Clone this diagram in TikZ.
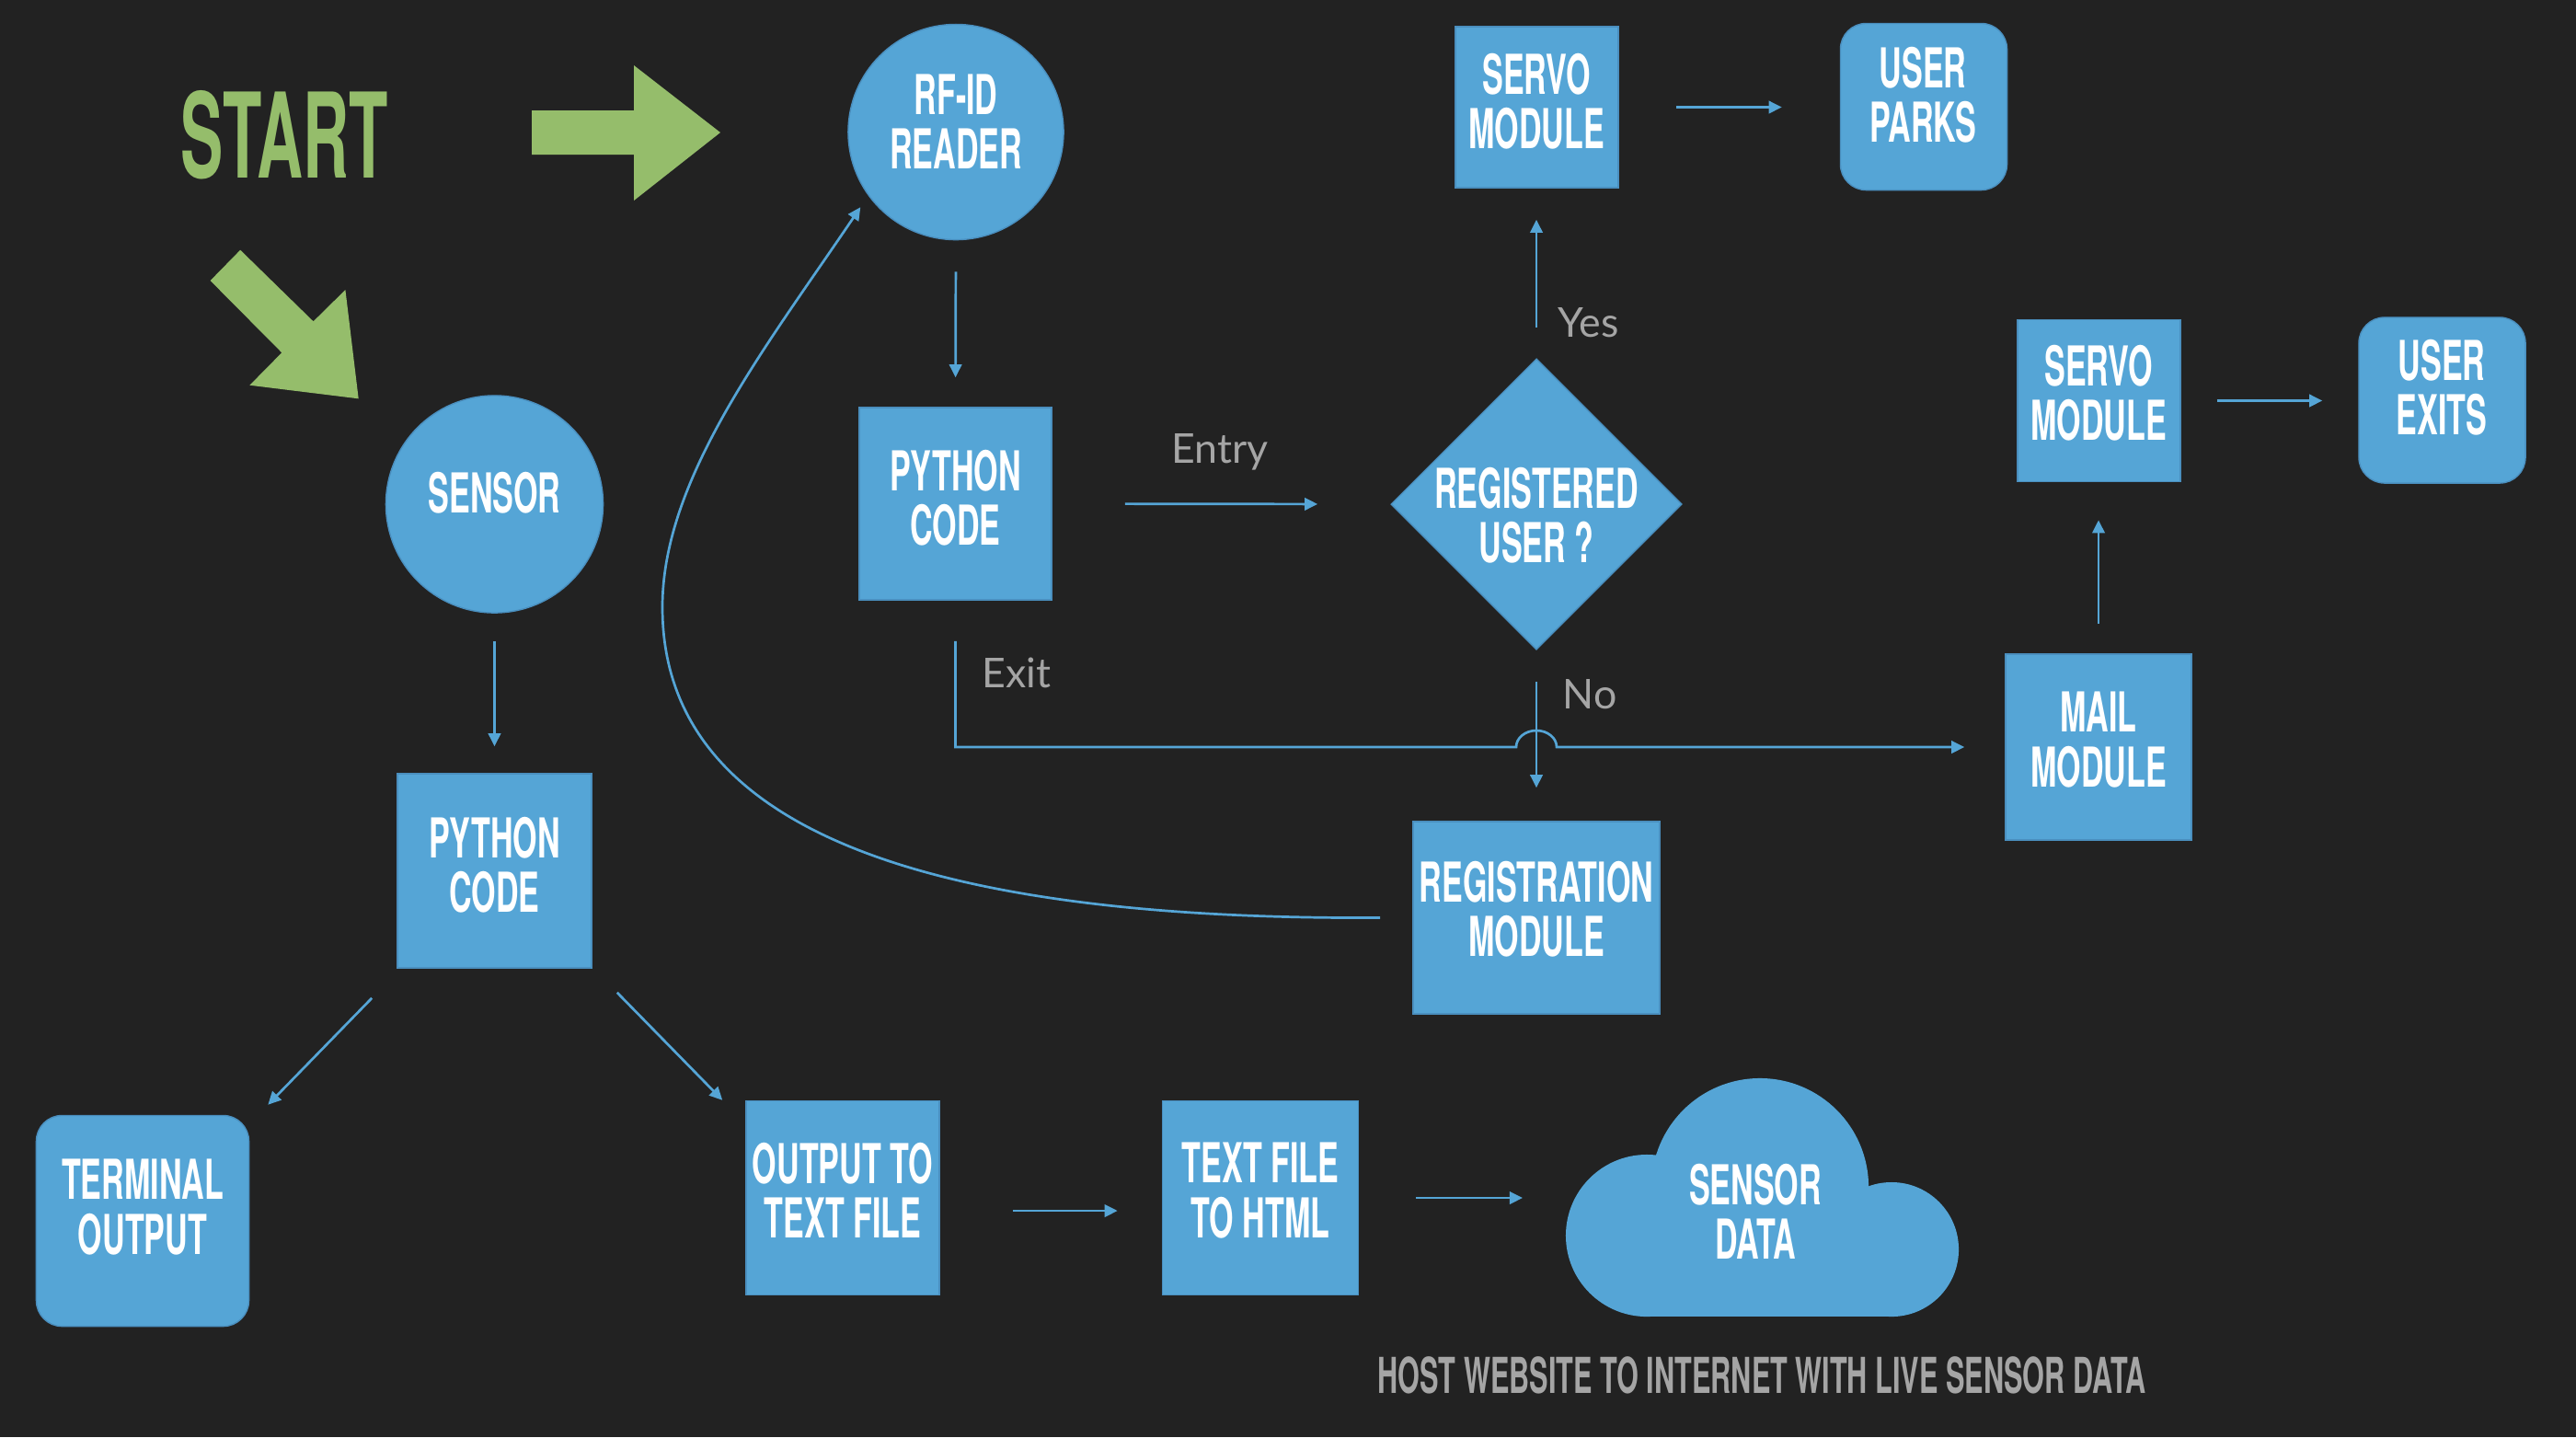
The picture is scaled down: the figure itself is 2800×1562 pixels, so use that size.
\documentclass[tikz,border=0pt]{standalone}
\usepackage{fontspec}
\setmainfont{Lato}
\newfontfamily\dinfont[FakeStretch=0.57]{TeX Gyre Heros}
\newfontfamily\startfont[FakeStretch=0.54]{TeX Gyre Heros}
\newfontfamily\lblfont{Lato}
\usetikzlibrary{shapes.geometric,arrows.meta}
\definecolor{bg}{HTML}{222222}
\definecolor{boxblue}{HTML}{55A5D6}
\definecolor{edgeblue}{HTML}{4A8FBF}
\definecolor{lineblue}{HTML}{55A5D6}
\definecolor{startgreen}{HTML}{95BD6B}
\definecolor{lblgray}{HTML}{A5A5A5}
\tikzset{
  box/.style={rectangle, fill=boxblue, draw=edgeblue, line width=0.4pt, inner sep=0pt},
  rbox/.style={box, rounded corners=0.28cm},
  circ/.style={circle, fill=boxblue, draw=edgeblue, line width=0.4pt, inner sep=0pt},
  dbox/.style={diamond, fill=boxblue, draw=edgeblue, line width=0.4pt, inner sep=0pt, minimum width=3.16cm, minimum height=3.16cm},
  txt/.style={text=white, font=\dinfont\bfseries\fontsize{17}{16.8}\selectfont, align=center, inner sep=0pt},
  captxt/.style={text=lblgray, font=\dinfont\bfseries\fontsize{15.3}{18}\selectfont, inner sep=0pt},
  lbl/.style={text=lblgray, font=\lblfont\fontsize{12.7}{15}\selectfont, inner sep=0pt, anchor=base west},
  arr/.style={draw=lineblue, line width=0.77pt, -{Triangle[length=4pt,width=3.8pt]}},
}
\begin{document}
\begin{tikzpicture}[x=0.01cm,y=0.01cm]
\fill[bg] (0,0) rectangle (2800,-1562);
\useasboundingbox (0,0) rectangle (2800,-1562);

% START and green arrows
\node[text=startgreen, font=\startfont\bfseries\fontsize{36.5}{40}\selectfont, inner sep=0pt] (start) at (309,-147) {START};
\fill[startgreen] (578,-120) -- (689,-120) -- (689,-71) -- (783,-144) -- (689,-218) -- (689,-168) -- (578,-168) -- cycle;
\fill[startgreen] (228.6,-305) -- (261.2,-271.7) -- (340.6,-349.3) -- (375.4,-315) -- (389.7,-433.3) -- (271.4,-418.7) -- (306.3,-383.3) -- cycle;

% shapes
\node[circ, minimum size=2.36cm] (sensor) at (537.5,-548) {};
\node[txt] (sensorT) at (537.5,-536) {SENSOR};
\node[box, minimum width=2.11cm, minimum height=2.11cm] (py1) at (537.5,-946.5) {};
\node[txt] (py1T) at (537.5,-940) {PYTHON\\CODE};
\node[rbox, minimum width=2.31cm, minimum height=2.29cm] (term) at (155,-1327) {};
\node[txt] (termT) at (155,-1312) {TERMINAL\\OUTPUT};
\node[box, minimum width=2.10cm, minimum height=2.11cm] (out) at (916,-1302) {};
\node[txt] (outT) at (916,-1294) {OUTPUT TO\\TEXT FILE};
\node[box, minimum width=2.13cm, minimum height=2.11cm] (html) at (1370,-1302) {};
\node[txt] (htmlT) at (1370,-1294) {TEXT FILE\\TO HTML};

\node[circ, minimum size=2.34cm] (rfid) at (1039,-143.5) {};
\node[txt] (rfidT) at (1039,-132) {RF-ID\\READER};
\node[box, minimum width=2.09cm, minimum height=2.09cm] (py2) at (1038.5,-547.5) {};
\node[txt] (py2T) at (1038.5,-541) {PYTHON\\CODE};
\node[box, minimum width=1.77cm, minimum height=1.75cm] (servo1) at (1670.5,-116.5) {};
\node[txt] (servo1T) at (1670,-110) {SERVO\\MODULE};
\node[rbox, minimum width=1.81cm, minimum height=1.81cm] (parks) at (2091,-116) {};
\node[txt] (parksT) at (2090,-103) {USER\\PARKS};
\node[dbox] (dia) at (1670,-548) {};
\node[txt] (diaT) at (1670,-560) {REGISTERED\\USER ?};
\node[box, minimum width=1.77cm, minimum height=1.76cm] (servo2) at (2281.5,-435.5) {};
\node[txt] (servo2T) at (2281,-427) {SERVO\\MODULE};
\node[rbox, minimum width=1.81cm, minimum height=1.80cm] (exits) at (2654.5,-435) {};
\node[txt] (exitsT) at (2654,-421) {USER\\EXITS};
\node[box, minimum width=2.02cm, minimum height=2.02cm] (mail) at (2281,-812) {};
\node[txt] (mailT) at (2281,-804) {MAIL\\MODULE};
\node[box, minimum width=2.68cm, minimum height=2.09cm] (regm) at (1670,-997.5) {};
\node[txt] (regmT) at (1670,-988) {REGISTRATION\\MODULE};

% cloud
\fill[boxblue] (1790,-1343) circle[radius=0.88cm];
\fill[boxblue] (1913,-1290) circle[radius=1.18cm];
\fill[boxblue] (2056,-1358) circle[radius=0.73cm];
\fill[boxblue] (1790,-1431) rectangle (2056,-1300);
\node[txt] (cloudT) at (1908,-1317) {SENSOR\\DATA};
\coordinate (cloudW) at (1700,-1302);
\node[captxt] (cap) at (1915,-1495) {HOST WEBSITE TO INTERNET WITH LIVE SENSOR DATA};

% labels
\node[lbl] (entry) at (1272.7,-503) {Entry};
\node[lbl] (exit) at (1066.7,-747.3) {Exit};
\node[lbl] (yes) at (1693,-366.7) {Yes};
\node[lbl] (no) at (1698,-770) {No};

% connectors
\draw[arr, shorten <=0.34cm, shorten >=0.32cm] (rfid.south) -- (py2.north);
\draw[arr, shorten <=0.30cm, shorten >=0.29cm] (sensor.south) -- (py1.north);
\draw[arr] ([xshift=-0.27cm,yshift=-0.32cm]py1.south west) -- ([xshift=0.20cm,yshift=0.11cm]term.north east);
\draw[arr] ([xshift=0.27cm,yshift=-0.26cm]py1.south east) -- ([xshift=-0.25cm]out.north west);
\draw[arr] ([xshift=0.79cm,yshift=-0.14cm]out.east) -- ([xshift=-0.48cm,yshift=-0.14cm]html.west);
\draw[arr, shorten >=0.45cm] ([xshift=0.62cm]html.east) -- (cloudW);
\draw[arr, shorten <=0.79cm, shorten >=0.79cm] (py2.east) -- (dia.west);
\draw[arr, shorten <=0.33cm, shorten >=0.34cm] (dia.north) -- (dia.north |- servo1.south);
\draw[arr, shorten <=0.62cm, shorten >=0.63cm] (servo1.east) -- (parks.west |- servo1.east);
\draw[arr, shorten <=0.39cm, shorten >=0.39cm] (servo2.east) -- (exits.west |- servo2.east);
\draw[arr, shorten <=0.32cm, shorten >=0.41cm] (mail.north) -- (mail.north |- servo2.south);
\draw[arr, shorten <=0.34cm, shorten >=0.36cm] (dia.south) -- (dia.south |- regm.north);
\coordinate (cross) at (dia.south |- mail.west);
\draw[arr] ([yshift=-0.44cm]py2.south) |- ([xshift=-0.22cm]cross) arc[start angle=180, end angle=0, x radius=0.22cm, y radius=0.18cm] -- ([xshift=-0.44cm]mail.west);
\draw[arr, shorten >=0.15cm] ([xshift=-0.35cm]regm.west) .. controls (1000,-1000) and (720,-900) .. (720,-660) .. controls (720,-520) and (832,-378) .. (rfid.216);
\end{tikzpicture}
\end{document}
